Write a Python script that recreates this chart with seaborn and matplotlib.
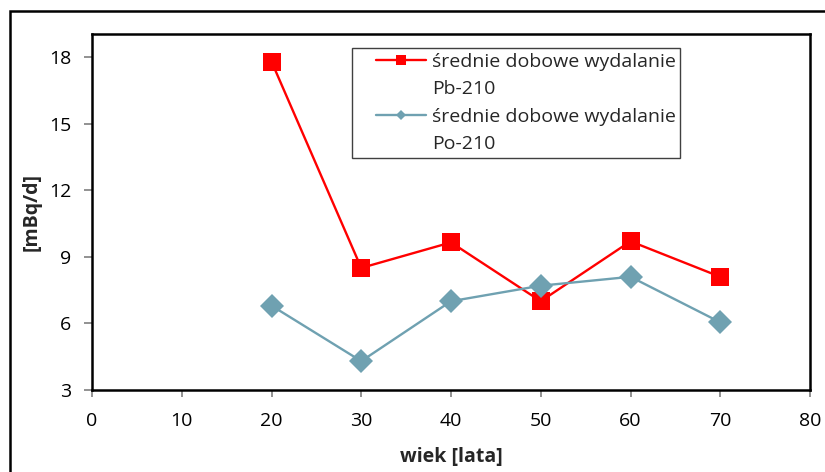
import matplotlib
matplotlib.use("Agg")
import matplotlib.pyplot as plt
from matplotlib.lines import Line2D
from matplotlib.patches import Rectangle
from matplotlib.legend_handler import HandlerLine2D
import seaborn as sns
import pandas as pd

# Age groups and mean daily excretion values [mBq/d]
ages = [20, 30, 40, 50, 60, 70]
pb210 = [17.8, 8.5, 9.65, 7.0, 9.7, 8.1]
po210 = [6.8, 4.3, 7.0, 7.7, 8.1, 6.05]

label_pb = "średnie dobowe wydalanie"
label_pb2 = "Pb-210"
label_po = "średnie dobowe wydalanie"
label_po2 = "Po-210"

x_ticks = [0, 10, 20, 30, 40, 50, 60, 70, 80]
y_ticks = [3, 6, 9, 12, 15, 18]

RED = "#FF0000"
TEAL = "#6FA1B1"

sns.set_theme(style="white")
plt.rcParams["font.family"] = ["Open Sans", "DejaVu Sans"]

df_pb = pd.DataFrame({"wiek": ages, "val": pb210})
df_po = pd.DataFrame({"wiek": ages, "val": po210})

fig = plt.figure(figsize=(8.25, 4.72), dpi=100)
ax = fig.add_axes([92 / 825, 1 - 390 / 472, (810 - 92) / 825, (390 - 34) / 472])

sns.lineplot(data=df_pb, x="wiek", y="val", ax=ax, color=RED, lw=1.7,
             marker="s", markersize=13.5, markeredgewidth=0, legend=False)
sns.lineplot(data=df_po, x="wiek", y="val", ax=ax, color=TEAL, lw=1.7,
             marker="D", markersize=11.8, markeredgewidth=0, legend=False)

ax.set_xlim(0, 80)
ax.set_ylim(3, 19.04)
ax.set_xticks(x_ticks)
ax.set_yticks(y_ticks)
ax.tick_params(axis="both", labelsize=14, colors="#7f7f7f", labelcolor="black",
               direction="out", width=1.2)
ax.tick_params(axis="y", length=6, pad=9)
ax.tick_params(axis="x", length=5, pad=11)
ax.tick_params(left=True, bottom=True)

for side in ["left", "right", "top", "bottom"]:
    ax.spines[side].set_visible(True)
    ax.spines[side].set_color("black")
    ax.spines[side].set_linewidth(1.8)

ax.set_xlabel("wiek [lata]", fontsize=14, fontweight="bold", labelpad=12)
ax.set_ylabel("[mBq/d]", fontsize=14, fontweight="bold", labelpad=5)


class OffsetLineHandler(HandlerLine2D):
    """Line handle drawn in the right part of the handle box."""

    def __init__(self, shift_frac=0.28, **kw):
        super().__init__(**kw)
        self.shift_frac = shift_frac

    def create_artists(self, legend, orig_handle, xdescent, ydescent,
                       width, height, fontsize, trans):
        shift = self.shift_frac * width
        return super().create_artists(legend, orig_handle, xdescent - shift,
                                      ydescent, width - shift, height,
                                      fontsize, trans)


h_pb = Line2D([], [], color=RED, lw=1.7, marker="s", markersize=7,
              markeredgewidth=0)
h_po = Line2D([], [], color=TEAL, lw=1.7, marker="D", markersize=5.5,
              markeredgewidth=0)
h_blank1 = Line2D([], [], color="none")
h_blank2 = Line2D([], [], color="none")

leg = ax.legend([h_pb, h_blank1, h_po, h_blank2],
                [label_pb, label_pb2, label_po, label_po2],
                loc="upper left", bbox_to_anchor=((352 - 92) / 718, (390 - 48) / 356),
                borderaxespad=0, fontsize=14, frameon=True, fancybox=False,
                edgecolor="#404040", framealpha=1, handlelength=3.55,
                handletextpad=0.3, labelspacing=0.48, borderpad=0.25,
                handler_map={h_pb: OffsetLineHandler(), h_po: OffsetLineHandler()})
leg.get_frame().set_linewidth(1.0)

# outer chart border
fig.patches.append(Rectangle((10 / 825, -0.1), 1.2, (472 - 11) / 472 + 0.1,
                             transform=fig.transFigure, fill=False,
                             edgecolor="black", linewidth=1.8))

fig.savefig("out.png", dpi=100)
